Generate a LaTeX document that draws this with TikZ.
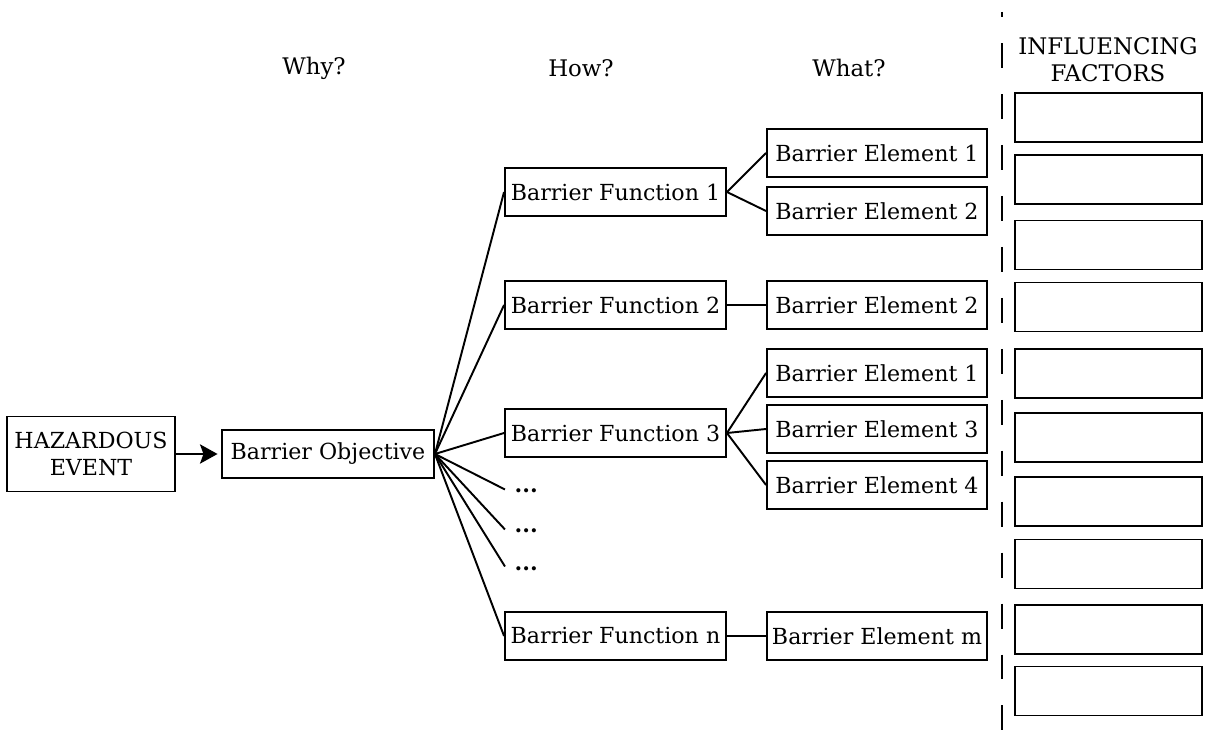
\documentclass[tikz,border=0pt]{standalone}
\usepackage{fontspec}
\setmainfont{DejaVu Serif}
\usetikzlibrary{arrows.meta}

\begin{document}
\begin{tikzpicture}[x=0.02cm,y=-0.02cm]
    \tikzset{boxed/.style = {draw, line width=1.1pt, inner sep=1pt, font=\fontsize{12.6}{15}\selectfont}}
    \tikzset{funcbox/.style = {boxed, minimum width=4.42cm, minimum height=0.96cm}}
    \tikzset{elembox/.style = {boxed, minimum width=4.4cm, minimum height=0.96cm}}
    \tikzset{factorbox/.style = {draw, line width=1.1pt, minimum width=3.74cm, minimum height=0.98cm}}
    \tikzset{link/.style = {draw, line width=1.1pt}}
    \tikzset{heading/.style = {font=\fontsize{13}{15.5}\selectfont, align=center}}

    \useasboundingbox (0,0) rectangle (1215,733);

    % headings
    \node[heading] (why) at (314,68) {Why?};
    \node[heading] (how) at (581,68) {How?};
    \node[heading] (what) at (849,68) {What?};
    \node[heading] (infl) at (1108,60) {INFLUENCING\\FACTORS};

    % vertices
    \node[boxed, minimum width=3.36cm, minimum height=1.5cm, align=center] (haz) at (91,454) {HAZARDOUS\\EVENT};
    \node[boxed, minimum width=4.24cm, minimum height=0.96cm] (obj) at (328,454) {Barrier Objective};

    \node[funcbox] (fn1) at (615.5,192) {Barrier Function 1};
    \node[funcbox] (fn2) at (615.5,305) {Barrier Function 2};
    \node[funcbox] (fn3) at (615.5,433) {Barrier Function 3};
    \node[funcbox] (fnn) at (615.5,636) {Barrier Function n};

    \node[elembox] (el1a) at (877,153) {Barrier Element 1};
    \node[elembox] (el2a) at (877,211) {Barrier Element 2};
    \node[elembox] (el2b) at (877,305) {Barrier Element 2};
    \node[elembox] (el1b) at (877,373) {Barrier Element 1};
    \node[elembox] (el3) at (877,429) {Barrier Element 3};
    \node[elembox] (el4) at (877,485) {Barrier Element 4};
    \node[elembox] (elm) at (877,636) {Barrier Element m};

    % more functions
    \node[boxed, draw=none, anchor=base west] (dt1) at (512,493) {\textbf{...}};
    \node[boxed, draw=none, anchor=base west] (dt2) at (512,533) {\textbf{...}};
    \node[boxed, draw=none, anchor=base west] (dt3) at (512,570) {\textbf{...}};

    % influencing factors
    \foreach \y [count=\i] in {117.5,179.5,245,307,373.5,437.5,501.5,564,629.5,691}
        \node[factorbox] (fac\i) at (1108.5,\y) {};

    \coordinate (sepTop) at (1002,12);
    \coordinate (sepBot) at (1002,733);

    % edges
    \draw[-{Stealth[length=10pt,width=11pt,inset=2pt]}, line width=1.1pt, shorten >=2pt] (haz) -- (obj);
    \draw[link] (obj.east) -- (fn1.west);
    \draw[link] (obj.east) -- (fn2.west);
    \draw[link] (obj.east) -- (fn3.west);
    \draw[link] (obj.east) -- ([xshift=-4pt,yshift=2pt]dt1.base west);
    \draw[link] (obj.east) -- ([xshift=-4pt,yshift=2pt]dt2.base west);
    \draw[link] (obj.east) -- ([xshift=-4pt,yshift=2pt]dt3.base west);
    \draw[link] (obj.east) -- (fnn.west);
    \draw[link] (fn1.east) -- (el1a.west);
    \draw[link] (fn1.east) -- (el2a.west);
    \draw[link] (fn2.east) -- (el2b.west);
    \draw[link] (fn3.east) -- (el1b.west);
    \draw[link] (fn3.east) -- (el3.west);
    \draw[link] (fn3.east) -- (el4.west);
    \draw[link] (fnn.east) -- (elm.west);
    \draw[line width=1.2pt, dash pattern=on 14.2pt off 14.8pt, dash phase=11.3pt] (sepTop) -- (sepBot);
\end{tikzpicture}
\end{document}
